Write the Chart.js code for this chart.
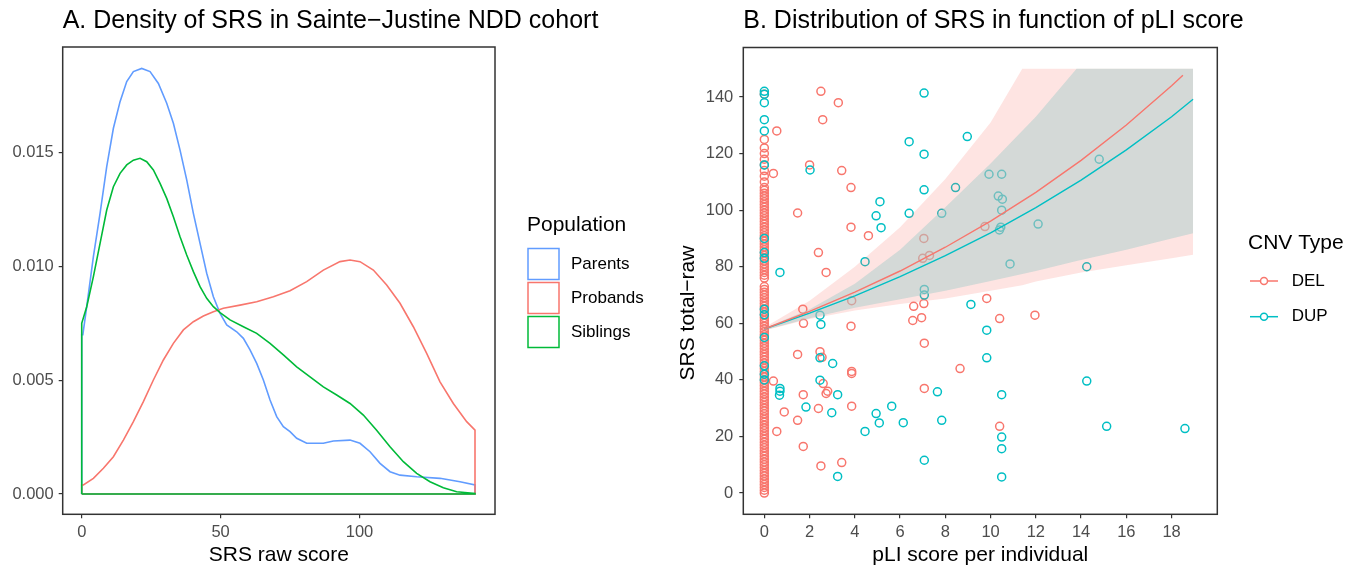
<!DOCTYPE html>
<html lang="en">
<head>
  <meta charset="UTF-8" />
  <title>SRS density and pLI</title>
  <script src="https://cdn.jsdelivr.net/npm/chart.js"></script>
  <style>
    body { margin: 0; background: #fff; }
    #wrap { position: relative; width: 1360px; height: 567px; }
    canvas { position: absolute; top: 0; }
    #densityChart { left: 0; }
    #pliChart { left: 680px; }
  </style>
</head>
<body>
  <div id="wrap">
    <canvas id="densityChart" width="680" height="567"></canvas>
    <canvas id="pliChart" width="680" height="567"></canvas>
  </div>

  <script>
    const FONT = "'Liberation Sans', Arial, sans-serif";

    // ---- panel A: density curves ----
    const srsTicks = [0, 50, 100];
    const densityTicks = [0, 0.005, 0.010, 0.015];

    const parentsSRS = [0, 0, 0.4, 1.8, 4.2, 6.6, 9, 11.4, 13.8, 16.2, 18.6, 21.6, 24.6, 27.6, 30.6, 33, 35.4, 37.8, 40.2, 42.6, 45, 47.4, 49.8, 52.2, 55.8, 58.2, 60.6, 63, 65.4, 67.8, 70.2, 72.6, 75, 77.4, 81, 87, 90.6, 96.6, 100.2, 103.8, 107.4, 111, 114.6, 120.6, 129, 136.2, 141.6, 141.6, 0];
    const parentsDensity = [0, 0.0070, 0.0070, 0.00823, 0.01043, 0.01233, 0.01438, 0.01607, 0.01724, 0.01812, 0.01856, 0.0187, 0.01856, 0.01804, 0.01717, 0.01629, 0.01511, 0.0138, 0.01233, 0.01101, 0.0097, 0.00867, 0.00794, 0.00743, 0.00713, 0.00684, 0.00633, 0.00574, 0.00501, 0.00413, 0.0034, 0.00296, 0.00274, 0.00245, 0.00223, 0.00223, 0.00233, 0.00237, 0.00223, 0.00186, 0.00135, 0.00098, 0.00083, 0.00076, 0.00069, 0.00054, 0.0004, 0, 0];

    const probandsSRS = [0, 0, 0.6, 4.2, 7.8, 11.4, 15, 18.6, 22.2, 25.8, 29.4, 33, 36.6, 40.2, 43.8, 47.4, 51, 57, 63, 69, 75, 81, 87, 93, 96.6, 100.2, 105, 109.8, 114.6, 119.4, 124.2, 129, 133.8, 138.6, 141.6, 141.6, 0];
    const probandsDensity = [0, 0.0004, 0.0004, 0.00069, 0.00113, 0.00164, 0.00237, 0.00318, 0.00406, 0.00501, 0.00589, 0.00662, 0.00721, 0.00757, 0.00782, 0.00801, 0.00816, 0.0083, 0.00845, 0.00867, 0.00893, 0.00933, 0.00984, 0.01021, 0.01028, 0.01021, 0.00984, 0.00918, 0.00838, 0.00735, 0.00618, 0.00493, 0.00398, 0.00318, 0.00281, 0, 0];

    const siblingsSRS = [0, 0, 1.8, 4.2, 6.6, 9, 11.4, 13.8, 16.2, 18.6, 21, 23.4, 25.8, 28.2, 30.6, 33, 35.4, 37.8, 40.2, 42.6, 45, 47.4, 49.8, 53.4, 58.2, 63, 67.8, 72.6, 77.4, 82.2, 87, 91.8, 96.6, 101.4, 106.1, 111, 115.8, 120.6, 125.4, 130.2, 135, 141.6, 141.6, 0];
    const siblingsDensity = [0, 0.0075, 0.00823, 0.00955, 0.01101, 0.01248, 0.0135, 0.01409, 0.01446, 0.01467, 0.01475, 0.0146, 0.01424, 0.01365, 0.01299, 0.01218, 0.0113, 0.0105, 0.00977, 0.00911, 0.0086, 0.00823, 0.00797, 0.00765, 0.00735, 0.00706, 0.00662, 0.00611, 0.00559, 0.00515, 0.00471, 0.00435, 0.00398, 0.00347, 0.00281, 0.00208, 0.00142, 0.00091, 0.00054, 0.00028, 0.0001, 0.00003, 0, 0];

    // ---- panel B: SRS vs pLI ----
    const pliTicks = [0, 2, 4, 6, 8, 10, 12, 14, 16, 18];
    const srsTotalTicks = [0, 20, 40, 60, 80, 100, 120, 140];

    const delPLI = [
      0,0,0,0,0,0,0,0,0,0,0,0,0,0,0,0,0,0,0,0,0,0,0,0,0,0,0,0,0,0,0,0,0,0,0,0,0,0,0,0,
      0,0,0,0,0,0,0,0,0,0,0,0,0,0,0,0,0,0,0,0,0,0,0,0,0,0,0,0,0,0,0,0,0,0,0,0,0,0,0,0,
      0,0,0,0,0,0,0,0,0,0,0,0,0,0,0,0,0,0,0,0,0,0,0,0,0,0,0,0,0,0,0,0,0,0,0,0,
      2.5, 3.27, 2.58, 0.55, 2.0, 3.42, 0.4, 3.83, 1.47, 3.83, 4.6, 2.39, 2.73, 7.05, 7.0, 7.3,
      3.86, 1.7, 1.73, 3.83, 6.6, 6.56, 6.95, 7.05, 7.07, 1.47, 2.46, 2.55, 3.86, 3.86, 0.4, 2.6,
      2.73, 2.8, 1.72, 7.07, 3.86, 2.39, 0.88, 1.47, 0.55, 1.72, 2.5, 3.42, 8.65, 9.75, 9.83, 10.4,
      11.96, 10.4
    ];
    const delSRS = [
      0,1,2,3,4,5,6,7,8,9,10,11,12,13,14,15,16,17,18,19,20,21,22,23,24,25,26,27,28,29,30,31,32,33,34,35,36,37,38,39,
      40,41,42,43,44,45,46,47,48,49,50,51,52,53,54,55,56,57,58,59,60,61,62,63,64,65,66,67,68,69,70,71,72,73,76,77,78,79,80,81,
      82,83,84,85,86,87,88,89,90,91,92,93,94,95,96,97,98,99,100,101,102,103,104,105,106,107,108,110,112,114,116,118,120,122,125,141,
      142, 138, 132, 128, 116, 114, 113, 108, 99, 94, 91, 85, 78, 90, 83, 84,
      68, 65, 60, 59, 66, 61, 62, 67, 53, 49, 50, 48, 42.3, 43, 39.6, 38.7,
      35.2, 36, 34.8, 37, 30.7, 29.9, 28.7, 25.7, 21.8, 16.5, 9.6, 10.8, 44, 94.2, 68.8, 61.7,
      62.9, 23.6
    ];

    const dupPLI = [
      0, 0, 0, 0, 0, 0, 0, 0, 0, 0, 0, 0, 0, 0, 0,
      7.06, 6.4, 7.06, 2.02, 7.06, 8.45, 5.11, 4.94, 6.4, 7.84, 5.16, 4.45, 0.69, 7.07, 7.07,
      2.46, 2.5, 2.46, 3.02, 2.46, 0.69, 0.69, 0.67, 3.24, 1.84, 2.98, 5.63, 4.94, 5.08, 6.14,
      4.45, 7.84, 7.65, 7.07, 3.24, 8.97, 9.93, 10.49, 10.34, 10.52, 10.49, 10.39, 10.45, 12.1, 14.8,
      10.86, 14.25, 9.13, 9.83, 9.83, 14.25, 10.49, 15.13, 18.59, 10.49, 10.49, 10.49
    ];
    const dupSRS = [
      142, 141, 138, 132, 128, 116, 90, 85, 83, 65, 63, 55, 45, 42, 40,
      141.4, 124.2, 119.8, 114.2, 107.2, 108, 103, 98, 98.9, 98.9, 93.8, 81.8, 78, 72, 70,
      62.9, 59.6, 47.8, 45.8, 39.9, 37, 36, 34.6, 34.8, 30.4, 28.4, 30.7, 28.1, 24.8, 24.9,
      21.8, 25.7, 35.8, 11.6, 5.9, 126, 112.7, 112.7, 105, 103.9, 100, 93, 94, 95.1, 118,
      81, 80, 66.7, 57.6, 47.8, 39.6, 34.8, 23.6, 22.8, 19.8, 15.7, 5.7
    ];

    // fitted curves and confidence bands
    const delFitPLI = [0, 2, 4, 6, 8, 10, 12, 14, 16, 18, 18.5];
    const delFitSRS = [58, 64.2, 71, 78.5, 86.9, 96.1, 106.3, 117.6, 130.1, 144, 147.7];
    const dupFitPLI = [0, 2, 4, 6, 8, 10, 12, 14, 16, 18, 18.95];
    const dupFitSRS = [58, 63.6, 69.7, 76.5, 83.9, 92, 100.9, 110.6, 121.3, 133, 139.2];

    const delBandPLI = [0, 2, 4, 6, 8, 10, 11.4, 12, 14, 16, 18, 18.95];
    const delBandHigh = [58.5, 68, 80, 94, 111, 131, 150, 150, 150, 150, 150, 150];
    const delBandLow = [57.5, 61.5, 64.5, 66.8, 68.8, 71.5, 73.5, 74.8, 78, 80.5, 83, 84.2];
    const dupBandPLI = [0, 2, 4, 6, 8, 10, 12, 13.8, 16, 18, 18.95];
    const dupBandHigh = [58.3, 65, 74, 86, 101, 116.5, 133, 150, 150, 150, 150];
    const dupBandLow = [57.6, 61.8, 65.5, 68.5, 71.5, 75, 78.5, 82, 86, 90, 91.8];

    const RED = '#F8766D', TEAL = '#00BFC4', BLUE = '#619CFF', GREEN = '#00BA38';

    function pairs(xs, ys) {
      return xs.map((x, i) => ({ x: x, y: ys[i] }));
    }

    Chart.defaults.font.family = FONT;

    // shared axis look: fixed box size so the plot area lands where it should, outward tick marks
    function axis(min, max, ticks, fmt, pad, size) {
      return {
        type: 'linear', min: min, max: max,
        afterFit: s => { if (s.isHorizontal()) s.height = size; else s.width = size; },
        afterBuildTicks: s => { s.ticks = ticks.map(v => ({ value: v })); },
        grid: { display: true, drawOnChartArea: false, drawTicks: true, tickLength: 4, color: '#333', lineWidth: 1.2 },
        border: { display: false },
        ticks: { color: '#4d4d4d', font: { size: 16.5 }, padding: pad, maxRotation: 0, autoSkip: false, callback: fmt }
      };
    }

    function decor(o) {
      return {
        id: 'decor',
        afterDraw(chart) {
          const { ctx, chartArea: a } = chart;
          ctx.save();
          ctx.strokeStyle = '#333';
          ctx.lineWidth = 1.5;
          ctx.strokeRect(a.left, a.top, a.right - a.left, a.bottom - a.top);

          ctx.fillStyle = '#000';
          ctx.textBaseline = 'middle';
          ctx.textAlign = 'left';
          ctx.font = '25px ' + FONT;
          ctx.fillText(o.title, a.left, 21);

          ctx.font = '21px ' + FONT;
          ctx.textAlign = 'center';
          ctx.fillText(o.xTitle, (a.left + a.right) / 2, 555);
          if (o.yTitle) {
            ctx.save();
            ctx.translate(o.yTitleX, o.yTitleY);
            ctx.rotate(-Math.PI / 2);
            ctx.fillText(o.yTitle, 0, 0);
            ctx.restore();
          }

          // legend
          ctx.textAlign = 'left';
          ctx.font = '21px ' + FONT;
          ctx.fillText(o.legendTitle, o.legendX, o.legendY);
          ctx.font = '17px ' + FONT;
          o.keys.forEach((k, i) => {
            const cy = o.keyY + i * o.keyStep;
            ctx.strokeStyle = k.color;
            ctx.lineWidth = 1.5;
            if (o.keyType === 'box') {
              ctx.strokeRect(o.legendX + 1, cy - 15.5, 31, 31);
            } else {
              ctx.beginPath();
              ctx.moveTo(o.legendX + 2, cy);
              ctx.lineTo(o.legendX + 30, cy);
              ctx.stroke();
              ctx.fillStyle = '#fff';
              ctx.beginPath();
              ctx.arc(o.legendX + 16, cy, 3.5, 0, Math.PI * 2);
              ctx.fill();
              ctx.stroke();
            }
            ctx.fillStyle = '#000';
            ctx.fillText(k.label, o.labelX, cy);
          });
          ctx.restore();
        }
      };
    }

    // ---------- panel A ----------
    // lower order is drawn on top: Siblings last, as in the original
    new Chart(document.getElementById('densityChart'), {
      type: 'line',
      data: {
        datasets: [
          { label: 'Parents', data: pairs(parentsSRS, parentsDensity), borderColor: BLUE, order: 2 },
          { label: 'Probands', data: pairs(probandsSRS, probandsDensity), borderColor: RED, order: 1 },
          { label: 'Siblings', data: pairs(siblingsSRS, siblingsDensity), borderColor: GREEN, order: 0 }
        ]
      },
      options: {
        responsive: false,
        animation: false,
        layout: { padding: { left: 2.7, right: 185, top: 47, bottom: 12.7 } },
        plugins: { legend: { display: false }, tooltip: { enabled: false } },
        elements: { point: { radius: 0 }, line: { borderWidth: 1.6, tension: 0, fill: false } },
        scales: {
          x: axis(-6.85, 148.8, srsTicks, v => String(v), 4, 40),
          y: axis(-0.00089, 0.01964, densityTicks, v => v.toFixed(3), 5, 60)
        }
      },
      plugins: [decor({
        title: 'A. Density of SRS in Sainte\u2212Justine NDD cohort',
        xTitle: 'SRS raw score',
        legendTitle: 'Population', legendX: 527, legendY: 225,
        keyType: 'box', keyY: 264, keyStep: 34, labelX: 571,
        keys: [{ label: 'Parents', color: BLUE }, { label: 'Probands', color: RED }, { label: 'Siblings', color: GREEN }]
      })]
    });

    // ---------- panel B ----------
    new Chart(document.getElementById('pliChart'), {
      type: 'scatter',
      data: {
        datasets: [
          { type: 'line', label: 'DEL fit', data: pairs(delFitPLI, delFitSRS), borderColor: RED, borderWidth: 1.4, pointRadius: 0, order: 0 },
          { type: 'line', label: 'DUP fit', data: pairs(dupFitPLI, dupFitSRS), borderColor: TEAL, borderWidth: 1.4, pointRadius: 0, order: 0 },
          { type: 'line', label: 'DEL band', data: pairs(delBandPLI, delBandHigh), borderWidth: 0, pointRadius: 0, fill: '+1', backgroundColor: 'rgba(248,118,109,0.2)', order: 1.5 },
          { type: 'line', label: 'DEL band low', data: pairs(delBandPLI, delBandLow), borderWidth: 0, pointRadius: 0, fill: false, order: 1.5 },
          { type: 'line', label: 'DUP band', data: pairs(dupBandPLI, dupBandHigh), borderWidth: 0, pointRadius: 0, fill: '+1', backgroundColor: 'rgba(170,206,204,0.5)', order: 1 },
          { type: 'line', label: 'DUP band low', data: pairs(dupBandPLI, dupBandLow), borderWidth: 0, pointRadius: 0, fill: false, order: 1 },
          { label: 'DUP', data: pairs(dupPLI, dupSRS), borderColor: TEAL, backgroundColor: 'rgba(0,0,0,0)', pointRadius: 4, borderWidth: 1.5, order: 2 },
          { label: 'DEL', data: pairs(delPLI, delSRS), borderColor: RED, backgroundColor: 'rgba(0,0,0,0)', pointRadius: 4, borderWidth: 1.5, order: 3 }
        ]
      },
      options: {
        responsive: false,
        animation: false,
        layout: { padding: { left: 23.3, right: 142.7, top: 47.5, bottom: 12.7 } },
        plugins: { legend: { display: false }, tooltip: { enabled: false } },
        elements: { line: { tension: 0 } },
        scales: {
          x: axis(-0.93, 20.02, pliTicks, v => String(v), 4, 40),
          y: axis(-7.5, 157.5, srsTotalTicks, v => String(v), 6, 40)
        }
      },
      plugins: [decor({
        title: 'B. Distribution of SRS in function of pLI score',
        xTitle: 'pLI score per individual',
        yTitle: 'SRS total\u2212raw', yTitleX: 8, yTitleY: 313,
        legendTitle: 'CNV Type', legendX: 568, legendY: 243,
        keyType: 'line', keyY: 281, keyStep: 35.7, labelX: 611.7,
        keys: [{ label: 'DEL', color: RED }, { label: 'DUP', color: TEAL }]
      })]
    });
  </script>
</body>
</html>
